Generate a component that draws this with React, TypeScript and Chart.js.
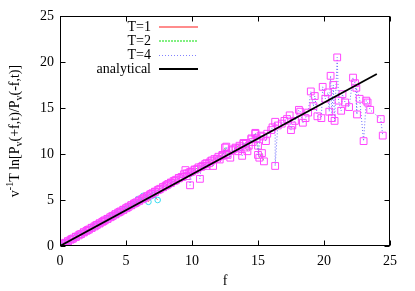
import { useEffect, useRef } from 'react';
import { Chart, registerables } from 'chart.js';

Chart.register(...registerables);

const xTicks = [0, 5, 10, 15, 20, 25];
const yTicks = [0, 5, 10, 15, 20, 25];
const legendLabels = ['T=1', 'T=2', 'T=4', 'analytical'];
const xTitle = 'f';

// T=1 (cyan circles, red line)
const t1F = [0, 0.3, 0.6, 0.9, 1.2, 1.5, 1.8, 2.1, 2.4, 2.7, 3.0, 3.3, 3.6, 3.9, 4.2, 4.5, 4.8, 5.1, 5.4, 5.7, 5.9, 6.1, 6.3, 6.5, 6.7, 6.9, 7.1, 7.4];
const t1V = [0.04, 0.26, 0.5, 0.74, 0.98, 1.22, 1.47, 1.72, 1.96, 2.2, 2.45, 2.7, 2.95, 3.18, 3.43, 3.68, 3.92, 4.15, 4.4, 4.6, 5.1, 4.95, 5.45, 5.2, 4.8, 5.4, 5.55, 5.0];

// T=2 (magenta squares, green dashed line)
const t2F = [0, 0.3, 0.6, 0.9, 1.2, 1.5, 1.8, 2.1, 2.4, 2.7, 3.0, 3.3, 3.6, 3.9, 4.2, 4.5, 4.8, 5.1, 5.4, 5.7, 6.0, 6.3, 6.6, 6.9, 7.2, 7.5, 7.8, 8.1, 8.4, 8.7, 9.0, 9.3, 9.6, 9.9, 10.2, 10.5, 10.8, 11.1, 11.4, 11.7, 12.0, 12.3, 12.5, 12.6, 13.0, 13.3, 13.6, 13.9, 14.1, 14.2, 14.5, 14.8, 15.0, 15.1, 15.3, 15.45];
const t2V = [0.05, 0.27, 0.52, 0.76, 1.0, 1.25, 1.49, 1.74, 1.98, 2.22, 2.46, 2.71, 2.95, 3.2, 3.45, 3.69, 3.93, 4.18, 4.43, 4.67, 4.92, 5.16, 5.41, 5.66, 5.89, 6.14, 6.38, 6.62, 6.9, 7.1, 7.35, 7.52, 7.9, 8.05, 8.3, 8.55, 8.72, 9.0, 9.2, 9.45, 9.7, 9.9, 10.7, 10.0, 10.4, 10.7, 10.9, 11.2, 10.7, 10.3, 11.7, 12.2, 10.9, 9.6, 10.1, 9.2];

// T=4 (magenta squares, blue dotted line)
const t4F = [0, 0.2, 0.4, 0.6, 0.8, 1.0, 1.2, 1.4, 1.6, 1.8, 2.0, 2.2, 2.4, 2.6, 2.8, 3.0, 3.2, 3.4, 3.6, 3.8, 4.0, 4.2, 4.4, 4.6, 4.8, 5.0, 5.2, 5.4, 5.6, 5.8, 6.0, 6.2, 6.4, 6.6, 6.8, 7.0, 7.2, 7.4, 7.6, 7.8, 8.0, 8.2, 8.4, 8.6, 8.8, 9.0, 9.2, 9.4, 9.5, 9.6, 9.8, 9.85, 10.0, 10.2, 10.4, 10.6, 10.7, 11.0, 11.1, 11.3, 11.5, 11.6, 11.9, 12.1, 12.3, 12.6, 12.7, 12.9, 13.1, 13.3, 13.5, 13.6, 13.8, 13.9, 14.1, 14.3, 14.5, 14.6, 14.8, 14.9, 15.0, 15.2, 15.4, 15.6, 15.7, 16.0, 16.1, 16.3, 16.3, 16.5, 16.8, 17.0, 17.2, 17.4, 17.5, 17.6, 17.8, 18.1, 18.2, 18.4, 18.6, 18.8, 19.0, 19.2, 19.3, 19.5, 19.8, 19.9, 20.1, 20.3, 20.4, 20.5, 20.6, 20.7, 20.8, 21.0, 21.1, 21.3, 21.4, 21.6, 21.9, 22.2, 22.35, 22.5, 22.45, 22.7, 23.0, 23.2, 23.3, 23.5, 24.3, 24.45];
const t4V = [0.05, 0.2, 0.35, 0.5, 0.68, 0.82, 1.0, 1.15, 1.3, 1.48, 1.64, 1.8, 1.97, 2.12, 2.3, 2.46, 2.62, 2.8, 2.95, 3.12, 3.28, 3.44, 3.62, 3.77, 3.94, 4.1, 4.27, 4.43, 4.6, 4.75, 4.93, 5.08, 5.25, 5.4, 5.58, 5.74, 5.9, 6.07, 6.22, 6.4, 6.55, 6.74, 6.85, 7.05, 7.2, 7.4, 7.5, 7.8, 8.25, 7.6, 8.0, 6.6, 8.1, 8.3, 8.4, 7.3, 8.6, 8.9, 8.7, 9.0, 9.3, 8.7, 9.5, 9.4, 9.8, 10.8, 9.9, 9.6, 10.5, 10.6, 10.3, 10.7, 9.8, 11.1, 11.2, 10.9, 11.6, 11.3, 12.3, 11.7, 9.9, 12.0, 11.9, 11.4, 12.2, 12.6, 12.9, 13.5, 8.7, 13.1, 13.3, 13.6, 13.8, 14.2, 12.6, 13.1, 13.6, 14.8, 14.6, 13.4, 13.9, 14.5, 16.8, 15.2, 16.3, 14.1, 13.9, 17.3, 16.0, 16.7, 14.6, 18.5, 13.9, 17.5, 13.6, 20.5, 15.8, 14.7, 16.5, 15.6, 15.1, 18.3, 17.7, 14.3, 17.2, 16.0, 11.4, 15.8, 15.6, 14.8, 13.8, 12.0];

// analytical line
const anF = [0, 24];
const anV = [0, 18.7];

const SERIF = '"Liberation Serif", "Times New Roman", serif';

const toPts = (fs: number[], vs: number[]) => fs.map((f, i) => ({ x: f, y: vs[i] }));

const legendStyles = [
  { color: 'rgb(255,140,140)', dash: [] as number[], width: 2 },
  { color: 'rgb(130,240,130)', dash: [2, 1], width: 2 },
  { color: 'rgb(130,130,255)', dash: [1, 2], width: 1 },
  { color: 'rgb(0,0,0)', dash: [] as number[], width: 2 },
];

const decor = {
  id: 'decor',
  afterDraw(chart: any) {
    const { ctx, chartArea: a, scales } = chart;
    const x = scales.x;
    const y = scales.y;
    ctx.save();
    ctx.strokeStyle = '#000';
    ctx.lineWidth = 1;
    ctx.setLineDash([]);
    const L = Math.round(a.left) + 0.5;
    const R = Math.round(a.right) - 0.5;
    const T = Math.round(a.top) + 0.5;
    const B = Math.round(a.bottom) - 0.5;
    ctx.strokeRect(L, T, R - L, B - T);
    const tl = 5;
    ctx.beginPath();
    xTicks.forEach((v) => {
      const px = Math.round(x.getPixelForValue(v)) + 0.5;
      ctx.moveTo(px, B); ctx.lineTo(px, B - tl);
      ctx.moveTo(px, T); ctx.lineTo(px, T + tl);
    });
    yTicks.forEach((v) => {
      const py = Math.round(y.getPixelForValue(v)) + 0.5;
      ctx.moveTo(L, py); ctx.lineTo(L + tl, py);
      ctx.moveTo(R, py); ctx.lineTo(R - tl, py);
    });
    ctx.stroke();

    // legend
    const rows = [27, 41, 55, 69];
    legendLabels.forEach((lab, i) => {
      ctx.font = `14px ${SERIF}`;
      ctx.fillStyle = '#000';
      ctx.textAlign = 'right';
      ctx.textBaseline = 'middle';
      ctx.fillText(lab, 151, rows[i]);
      const s = legendStyles[i];
      ctx.save();
      ctx.strokeStyle = s.color;
      ctx.lineWidth = s.width;
      ctx.setLineDash(s.dash);
      ctx.beginPath();
      const yy = s.width === 1 ? rows[i] + 0.5 : rows[i];
      ctx.moveTo(159, yy);
      ctx.lineTo(198, yy);
      ctx.stroke();
      ctx.restore();
    });
    ctx.setLineDash([]);
    ctx.fillStyle = '#000';

    // x title
    ctx.font = `14px ${SERIF}`;
    ctx.textAlign = 'center';
    ctx.textBaseline = 'alphabetic';
    ctx.fillText(xTitle, (a.left + a.right) / 2, 285);

    // y title with super/subscripts
    const segs: [string, number][] = [
      ['v', 0], ['-1', 1], ['T ln[P', 0], ['v', -1], ['(+f,t)/P', 0], ['v', -1], ['(-f,t)]', 0],
    ];
    const fontFor = (k: number) => (k === 0 ? `14px ${SERIF}` : `10px ${SERIF}`);
    let total = 0;
    segs.forEach(([t, k]) => { ctx.font = fontFor(k); total += ctx.measureText(t).width; });
    ctx.translate(19, (a.top + a.bottom) / 2);
    ctx.rotate(-Math.PI / 2);
    ctx.textAlign = 'left';
    let cx = -total / 2;
    segs.forEach(([t, k]) => {
      ctx.font = fontFor(k);
      const dy = k === 1 ? -6 : k === -1 ? 3 : 0;
      ctx.fillText(t, cx, dy);
      cx += ctx.measureText(t).width;
    });
    ctx.restore();
  },
};

export default function App() {
  const ref = useRef<HTMLCanvasElement | null>(null);
  useEffect(() => {
    document.body.style.margin = '0';
    if (!ref.current) return;
    const chart = new Chart(ref.current, {
      type: 'scatter',
      data: {
        datasets: [
          {
            label: legendLabels[0],
            data: toPts(t1F, t1V),
            showLine: true,
            borderColor: 'rgb(255,120,120)',
            borderWidth: 1,
            pointStyle: 'circle',
            pointRadius: 2.8,
            pointBorderColor: 'rgb(60,220,240)',
            pointBackgroundColor: 'rgba(0,0,0,0)',
            pointBorderWidth: 1,
            order: 3,
          },
          {
            label: legendLabels[1],
            data: toPts(t2F, t2V),
            showLine: true,
            borderColor: 'rgb(110,230,110)',
            borderDash: [2, 1],
            borderWidth: 1,
            pointStyle: 'rect',
            pointRadius: 4.8,
            pointBorderColor: 'rgb(255,70,255)',
            pointBackgroundColor: 'rgba(0,0,0,0)',
            pointBorderWidth: 1,
            order: 2,
          },
          {
            label: legendLabels[2],
            data: toPts(t4F, t4V),
            showLine: true,
            borderColor: 'rgb(110,110,255)',
            borderDash: [1, 2],
            borderWidth: 1,
            pointStyle: 'rect',
            pointRadius: 4.8,
            pointBorderColor: 'rgb(255,70,255)',
            pointBackgroundColor: 'rgba(0,0,0,0)',
            pointBorderWidth: 1,
            order: 1,
          },
          {
            label: legendLabels[3],
            data: toPts(anF, anV),
            showLine: true,
            borderColor: '#000000',
            borderWidth: 1.8,
            pointRadius: 0,
            order: 0,
          },
        ],
      },
      options: {
        animation: false,
        responsive: true,
        maintainAspectRatio: false,
        events: [],
        layout: { padding: { left: 0, top: 16, right: 25, bottom: 0 } },
        plugins: { legend: { display: false }, tooltip: { enabled: false } },
        scales: {
          x: {
            type: 'linear',
            min: 0,
            max: 25,
            afterBuildTicks: (s: any) => { s.ticks = xTicks.map((v) => ({ value: v })); },
            afterFit: (s: any) => { s.height = 45; },
            grid: { display: false, drawTicks: false },
            border: { display: false },
            ticks: { color: '#000', font: { family: SERIF, size: 14 }, padding: 7, maxRotation: 0 },
          },
          y: {
            type: 'linear',
            min: 0,
            max: 25,
            afterBuildTicks: (s: any) => { s.ticks = yTicks.map((v) => ({ value: v })); },
            afterFit: (s: any) => { s.width = 60; },
            grid: { display: false, drawTicks: false },
            border: { display: false },
            ticks: { color: '#000', font: { family: SERIF, size: 14 }, padding: 6 },
          },
        },
      },
      plugins: [decor],
    });
    return () => chart.destroy();
  }, []);
  return (
    <div style={{ position: 'relative', width: 415, height: 291 }}>
      <canvas ref={ref} />
    </div>
  );
}
